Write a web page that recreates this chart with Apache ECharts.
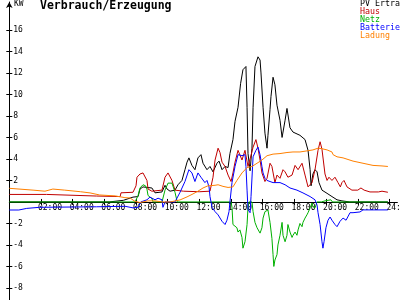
<!DOCTYPE html>
<html><head><meta charset="utf-8">
<script src="https://cdn.jsdelivr.net/npm/echarts@6/dist/echarts.min.js"></script>
<style>html,body{margin:0;padding:0;background:#fff}#c{width:400px;height:300px}</style>
</head><body><div id="c"></div>
<script>
const titleText = 'Verbrauch/Erzeugung';
const unitText = 'KW';
const seriesNames = ['PV Ertrag', 'Haus', 'Netz', 'Batterie', 'Ladung'];
const seriesColors = ['#000000', '#c00000', '#00b000', '#0000ff', '#ff8000'];
const xTicks = [2, 4, 6, 8, 10, 12, 14, 16, 18, 20, 22, 24];
const yTicks = [-8, -6, -4, -2, 2, 4, 6, 8, 10, 12, 14, 16];

// [hour, kW]
const pvData = [[0,0],[6.3,0],[6.36,0.15],[7.2,0.15],[7.3,0.3],[7.81,0.45],[8.13,0.5],[8.25,1.2],[8.44,1.4],[8.7,1.35],[9.0,1.3],[9.2,0.85],[9.64,0.93],[9.83,1.55],[9.96,1.2],[10.15,1.0],[10.46,1.1],[10.65,1.6],[10.9,2.0],[11.09,3.0],[11.22,3.7],[11.34,4.1],[11.53,3.4],[11.72,3.0],[11.91,4.1],[12.1,4.4],[12.23,3.6],[12.48,3.0],[12.67,3.3],[12.86,2.8],[13.11,3.6],[13.24,3.8],[13.43,3.0],[13.62,3.3],[13.81,3.2],[13.93,4.5],[14.12,5.8],[14.25,7.5],[14.44,8.8],[14.6,11.0],[14.75,12.3],[14.94,12.6],[15.01,8.8],[15.07,4.5],[15.2,2.9],[15.32,5.0],[15.39,8.8],[15.51,12.6],[15.70,13.5],[15.83,13.2],[15.89,12.0],[16.02,8.8],[16.14,6.4],[16.27,5.0],[16.33,6.2],[16.46,8.6],[16.52,9.8],[16.65,11.6],[16.77,10.9],[16.90,9.0],[17.09,7.6],[17.22,6.0],[17.41,7.6],[17.53,8.7],[17.72,6.9],[17.91,6.5],[18.35,6.2],[18.67,5.8],[18.86,4.8],[18.99,3.0],[19.05,1.5],[19.17,2.6],[19.30,3.0],[19.43,2.8],[19.55,1.8],[19.74,1.1],[20.06,0.8],[20.37,0.5],[20.69,0.2],[21.0,0.1],[21.5,0],[23.9,0]];

const hausData = [[0,0.7],[2.35,0.7],[2.4,0.55],[5.5,0.55],[5.6,0.5],[7.0,0.5],[7.05,0.85],[7.81,0.9],[8.0,1.5],[8.06,2.3],[8.25,2.6],[8.44,2.7],[8.69,2.0],[8.76,1.2],[9.0,1.0],[9.64,1.1],[9.83,2.3],[10.02,2.7],[10.27,2.0],[10.46,1.1],[11.0,1.0],[12.0,0.95],[12.67,1.0],[12.86,2.3],[12.99,3.9],[13.18,5.0],[13.30,4.6],[13.43,3.7],[13.62,3.3],[13.81,2.5],[14.0,1.9],[14.12,2.7],[14.25,3.7],[14.44,4.8],[14.69,3.9],[14.88,4.8],[15.07,3.3],[15.2,4.0],[15.39,5.1],[15.57,5.8],[15.70,5.0],[15.83,3.9],[15.95,2.7],[16.14,1.9],[16.27,2.2],[16.46,3.6],[16.58,3.3],[16.77,1.8],[16.90,2.5],[17.09,2.2],[17.28,3.0],[17.41,2.8],[17.59,2.3],[17.85,2.5],[18.04,3.4],[18.23,3.0],[18.48,3.6],[18.67,2.5],[18.86,1.4],[19.11,1.8],[19.30,3.0],[19.49,4.8],[19.62,5.6],[19.74,4.9],[19.93,2.6],[20.06,2.0],[20.18,2.3],[20.37,2.0],[20.56,2.3],[20.75,1.8],[20.9,1.4],[21.0,1.8],[21.13,2.0],[21.32,1.4],[21.63,1.1],[22.0,1.1],[22.2,1.3],[22.4,1.1],[22.77,0.93],[23.3,0.93],[23.53,1.0],[23.9,0.9]];

const netzData = [[0,0],[7.94,0],[8.13,0.6],[8.25,1.3],[8.44,1.6],[8.6,1.5],[8.69,1.2],[8.76,0.6],[9.01,0.3],[9.07,0],[9.64,0],[9.83,1.1],[10.02,1.75],[10.27,1.75],[10.46,0.9],[10.6,0],[14.0,0],[14.06,-0.5],[14.12,-2.1],[14.37,-2.4],[14.44,-2.8],[14.56,-2.6],[14.69,-3.3],[14.75,-4.3],[14.88,-3.7],[15.01,-2.1],[15.07,-0.5],[15.13,0],[15.32,0],[15.39,-0.9],[15.51,-1.9],[15.64,-2.4],[15.70,-2.3],[15.83,-2.9],[15.95,-2.4],[16.02,-1.5],[16.14,-0.9],[16.33,-0.75],[16.46,-1.9],[16.58,-3.4],[16.65,-4.9],[16.70,-6.0],[16.77,-5.4],[16.90,-4.9],[16.96,-4.0],[17.09,-3.1],[17.22,-1.9],[17.28,-3.1],[17.41,-3.7],[17.53,-3.1],[17.59,-2.1],[17.72,-2.8],[17.85,-3.3],[17.91,-3.1],[18.04,-2.8],[18.16,-3.1],[18.23,-2.6],[18.35,-2.0],[18.48,-2.3],[18.54,-1.9],[18.67,-1.5],[18.79,-1.2],[18.86,-1.0],[18.99,-0.55],[19.11,-0.1],[19.17,-0.45],[19.30,-0.55],[19.43,0],[19.55,0.15],[19.7,0],[19.93,0.1],[20.0,0.25],[20.3,0.2],[20.4,0],[22.5,0],[22.6,0.15],[22.8,0],[23.9,0]];

const batterieData = [[0,-0.75],[0.6,-0.75],[1.1,-0.6],[1.9,-0.5],[5.5,-0.45],[5.6,-0.4],[7.3,-0.4],[7.81,-0.55],[8.13,-0.5],[8.3,0],[8.69,0.2],[8.88,0.45],[9.2,0.2],[9.39,0.35],[9.64,0.2],[9.70,-0.5],[9.83,0],[10.46,0],[10.78,0.9],[11.09,1.9],[11.34,3.0],[11.53,2.7],[11.72,1.9],[11.91,2.7],[12.10,2.3],[12.35,1.8],[12.48,2.0],[12.61,1.4],[12.67,0.5],[12.80,-0.5],[12.99,-0.9],[13.18,-1.2],[13.43,-1.8],[13.62,-2.1],[13.74,-1.7],[13.87,-0.9],[13.93,0],[14.06,1.8],[14.25,3.3],[14.44,4.4],[14.69,4.3],[14.88,4.4],[14.94,3.3],[15.01,1.1],[15.07,-0.7],[15.2,-1.0],[15.26,0.5],[15.39,4.2],[15.57,4.8],[15.70,5.1],[15.83,4.4],[15.95,3.3],[16.02,2.7],[16.14,2.2],[16.27,2.0],[16.46,1.9],[16.65,1.8],[17.09,1.8],[17.41,1.6],[17.72,1.3],[18.16,1.1],[18.54,0.84],[18.99,0.5],[19.30,0.2],[19.43,-0.3],[19.49,-1.0],[19.62,-2.1],[19.74,-3.7],[19.80,-4.3],[19.87,-3.7],[19.99,-2.4],[20.12,-1.7],[20.25,-1.4],[20.37,-1.7],[20.56,-2.1],[20.69,-2.3],[20.88,-1.8],[21.07,-1.5],[21.26,-1.7],[21.51,-1.0],[21.70,-1.0],[22.14,-0.93],[22.33,-0.74],[23.9,-0.74]];

const ladungData = [[0,1.27],[1.5,1.1],[2.25,1.0],[2.75,1.2],[3.5,1.1],[4.5,0.95],[5.1,0.84],[5.7,0.65],[6.7,0.56],[7.3,0.4],[7.62,0.37],[7.94,0.05],[8.25,-0.05],[8.76,0.1],[9.2,0.1],[9.64,0.0],[10.15,0],[10.78,0.19],[11.22,0.47],[11.60,0.75],[11.91,1.0],[12.23,1.3],[12.54,1.5],[12.99,1.55],[13.18,1.6],[13.49,1.45],[13.81,1.35],[14.12,1.4],[14.37,2.0],[14.69,2.7],[15.01,3.2],[15.32,3.3],[15.64,3.6],[15.95,3.9],[16.27,4.3],[16.65,4.45],[17.09,4.5],[17.53,4.6],[17.91,4.65],[18.35,4.65],[18.79,4.75],[19.17,4.84],[19.49,5.0],[19.74,4.95],[20.06,4.84],[20.37,4.65],[20.44,4.4],[20.69,4.2],[21.07,4.1],[21.70,3.8],[22.33,3.6],[22.96,3.4],[23.53,3.35],[23.9,3.3]];

const allData = [pvData, hausData, netzData, batterieData, ladungData];
const mono = '"DejaVu Sans Mono", "Liberation Mono", monospace';

const chart = echarts.init(document.getElementById('c'), null, {renderer: 'canvas'});
const xMin = 0, xMax = 24.5, yMin = -9.12, yMax = 18.6;
const pxPerHour = 15.84, pxPerKW = 10.75, plotLeft = 9.3, plotTop = 2;
const plotW = (xMax - xMin) * pxPerHour;
const zeroY = plotTop + yMax * pxPerKW;
const noSplit = {splitLine: {show: false}};
chart.setOption({
  animation: false,
  backgroundColor: '#ffffff',
  title: [
    {text: titleText, left: 40, top: 0, padding: 0,
     textStyle: {fontFamily: mono, fontSize: 11.5, fontWeight: 'bold', color: '#000', lineHeight: 12}},
    {text: unitText, left: 14, top: 0, padding: 0,
     textStyle: {fontFamily: mono, fontSize: 8, fontWeight: 'normal', color: '#000', lineHeight: 8}}
  ],
  legend: {
    orient: 'vertical', left: 355, top: 0, padding: 0, itemGap: 0,
    itemWidth: 0, itemHeight: 0, icon: 'rect', selectedMode: false,
    textStyle: {fontFamily: mono, fontSize: 8.3, lineHeight: 8},
    data: seriesNames.map((n, i) => ({name: n, textStyle: {color: seriesColors[i]}, itemStyle: {opacity: 0}}))
  },
  grid: [
    {left: plotLeft, top: plotTop, width: plotW, height: (yMax - yMin) * pxPerKW, containLabel: false, outerBoundsMode: 'none'},
    // label strip: its bottom edge sits on the zero line, shifted a little left like the original labels
    {left: plotLeft - 3, top: plotTop, width: plotW, height: zeroY - plotTop, containLabel: false, outerBoundsMode: 'none'}
  ],
  xAxis: [
    Object.assign({type: 'value', min: xMin, max: xMax, gridIndex: 0, position: 'bottom'}, noSplit, {
      axisLine: {show: true, onZero: true, onZeroAxisIndex: 0, lineStyle: {color: '#000', width: 1}},
      axisTick: {show: true, inside: false, length: 3, customValues: xTicks, lineStyle: {color: '#000'}},
      axisLabel: {show: false}
    }),
    Object.assign({type: 'value', min: xMin, max: xMax, gridIndex: 0, position: 'bottom'}, noSplit, {
      axisLine: {show: false, onZero: true, onZeroAxisIndex: 1},
      axisTick: {show: true, inside: true, length: 3, customValues: xTicks, lineStyle: {color: '#000'}},
      axisLabel: {show: false}
    }),
    Object.assign({type: 'value', min: xMin, max: xMax, gridIndex: 1, position: 'bottom'}, noSplit, {
      axisLine: {show: false, onZero: false},
      axisTick: {show: false},
      axisLabel: {show: true, customValues: xTicks, align: 'left', margin: 2,
        fontFamily: mono, fontSize: 8, color: '#000',
        formatter: v => (v < 10 ? '0' : '') + v + ':00'}
    })
  ],
  yAxis: [
    Object.assign({type: 'value', min: yMin, max: yMax, gridIndex: 0, position: 'left'}, noSplit, {
      axisLine: {show: true, onZero: false, symbol: ['none', 'arrow'], symbolSize: [5, 6], lineStyle: {color: '#000', width: 1}},
      axisTick: {show: true, inside: false, length: 3, customValues: yTicks, lineStyle: {color: '#000'}},
      axisLabel: {show: true, inside: true, customValues: yTicks, margin: 4,
        fontFamily: mono, fontSize: 8, color: '#000'}
    }),
    Object.assign({type: 'value', min: yMin, max: yMax, gridIndex: 0, position: 'left'}, noSplit, {
      axisLine: {show: false, onZero: false},
      axisTick: {show: true, inside: true, length: 3, customValues: yTicks, lineStyle: {color: '#000'}},
      axisLabel: {show: false}
    }),
    {type: 'value', min: 0, max: 1, gridIndex: 1, show: false}
  ],
  series: seriesNames.map((n, i) => ({
    name: n, type: 'line', xAxisIndex: 0, yAxisIndex: 0,
    data: allData[i], showSymbol: false, symbol: 'none', smooth: false,
    color: seriesColors[i],
    lineStyle: {color: seriesColors[i], width: 1},
    emphasis: {disabled: true}
  }))
});
</script></body></html>
